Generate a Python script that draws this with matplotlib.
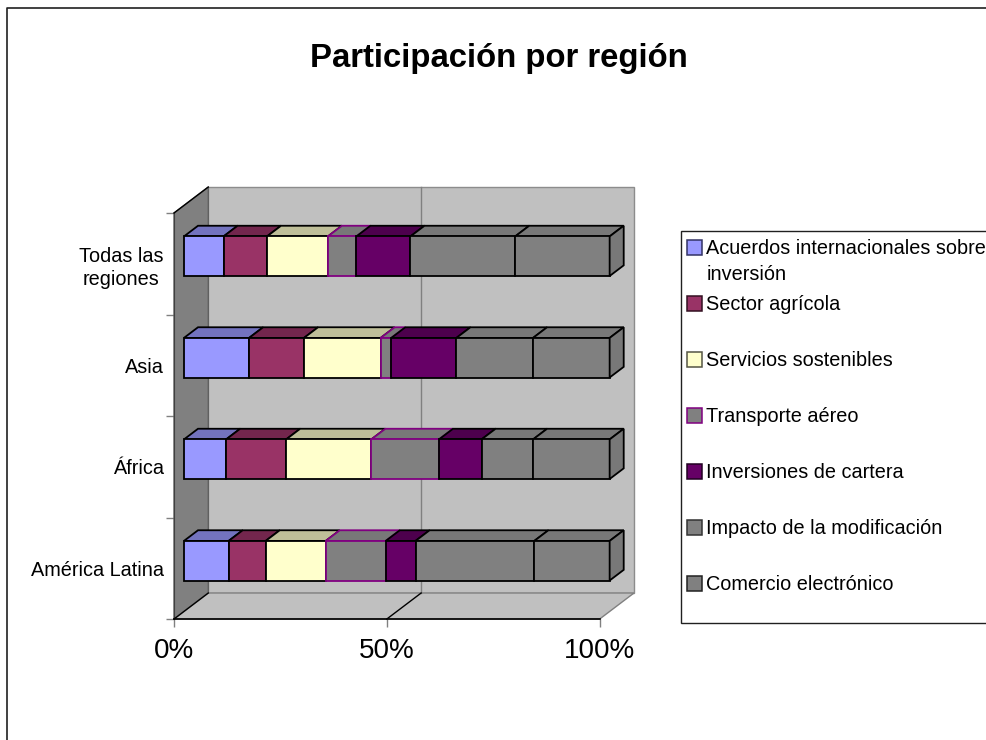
import matplotlib
matplotlib.use('Agg')
import matplotlib.pyplot as plt
from matplotlib.patches import Polygon, Rectangle
from matplotlib.lines import Line2D

plt.rcParams['font.family'] = ['Liberation Sans', 'DejaVu Sans']

# categories go bottom to top
regions = ['América Latina', 'África', 'Asia', 'Todas las\nregiones']
series = ['Acuerdos internacionales sobre\ninversión', 'Sector agrícola', 'Servicios sostenibles',
          'Transporte aéreo', 'Inversiones de cartera', 'Impacto de la modificación', 'Comercio electrónico']

acuerdos = [10.5, 9.9, 15.3, 9.3]
agricola = [8.7, 14.1, 12.9, 10.2]
servicios = [14.1, 20.0, 18.0, 14.3]
transporte = [14.1, 15.9, 2.5, 6.7]
cartera = [7.0, 10.0, 15.3, 12.7]
impacto = [27.9, 12.1, 18.0, 24.6]
comercio = [17.7, 18.0, 18.0, 22.2]
values = [acuerdos, agricola, servicios, transporte, cartera, impacto, comercio]

front = ['#9999FF', '#993366', '#FFFFCC', '#808080', '#660066', '#808080', '#808080']
top = ['#7373BF', '#73264D', '#BFBF99', '#787878', '#4D004D', '#787878', '#787878']
edges = ['black', 'black', 'black', '#800080', 'black', 'black', 'black']
swatch_edges = ['#333366', '#331122', '#555544', '#800080', '#220022', '#333333', '#222222']

W, H = 986, 740
fig = plt.figure(figsize=(W / 100, H / 100), dpi=100, facecolor='white')

# overlay in pixels for the frame, title and legend box
over = fig.add_axes([0, 0, 1, 1], zorder=0)
over.set_xlim(0, W)
over.set_ylim(H, 0)
over.axis('off')

ax = fig.add_axes([174 / W, 1 - 619 / H, 425.7 / W, 406 / H], zorder=1)
ax.patch.set_alpha(0)
ax.set_xlim(0, 100)
ax.set_ylim(0, 4)

DX = 34.3 / 4.257   # wall depth in percent
DY = 26 / 101.5     # wall depth in category units


def proj(x, y, d):
    return (x + d * DX, y + d * DY)


def poly(points, fc, ec, lw=1.0, z=2):
    ax.add_patch(Polygon([proj(*p) for p in points], closed=True, facecolor=fc, edgecolor=ec,
                         linewidth=lw, zorder=z, clip_on=False, joinstyle='miter'))


def line(p0, p1, color, lw=1.0, z=3):
    a, b = proj(*p0), proj(*p1)
    ax.plot([a[0], b[0]], [a[1], b[1]], color=color, lw=lw, zorder=z, clip_on=False)


# walls and floor
poly([(0, 0, 1), (100, 0, 1), (100, 4, 1), (0, 4, 1)], '#C0C0C0', '#8C8C8C')
poly([(0, 0, 0), (0, 4, 0), (0, 4, 1), (0, 0, 1)], '#808080', '#606060')
poly([(0, 0, 0), (100, 0, 0), (100, 0, 1), (0, 0, 1)], '#C0C0C0', '#808080')
line((50, 0, 1), (50, 4, 1), '#808080')
line((0, 0, 0), (0, 0, 1), 'black')
line((0, 4, 0), (0, 4, 1), 'black')
line((50, 0, 0), (50, 0, 1), 'black')
line((0, 0, 0), (100, 0, 0), 'black', lw=1.2)

# stacked boxes
d0, d1 = 0.29, 0.70
half = 0.195
z = 4
for i in range(len(regions) - 1, -1, -1):
    left = 0
    yc = i + 0.5
    for j in range(len(series)):
        w = values[j][i]
        right = left + w
        poly([(left, yc + half, d0), (right, yc + half, d0), (right, yc + half, d1), (left, yc + half, d1)],
             top[j], edges[j], lw=1.3, z=z)
        poly([(left, yc - half, d0), (right, yc - half, d0), (right, yc + half, d0), (left, yc + half, d0)],
             front[j], edges[j], lw=1.3, z=z)
        if j == len(series) - 1:
            poly([(right, yc - half, d0), (right, yc - half, d1), (right, yc + half, d1), (right, yc + half, d0)],
                 '#787878', edges[j], lw=1.3, z=z)
        left = right
        z += 1

# axes furniture
for s in ['top', 'right', 'bottom']:
    ax.spines[s].set_visible(False)
ax.spines['left'].set_color('#404040')
ax.set_xticks([0, 50, 100])
ax.set_xticklabels(['0%', '50%', '100%'], fontsize=20, color='black')
ax.tick_params(axis='x', length=5.8, width=1.0, color='#808080', pad=8)
ax.set_yticks([0, 1, 2, 3, 4])
ax.set_yticklabels([])
ax.tick_params(axis='y', length=5.8, width=1.0, color='#808080')
ax.set_yticks([0.5, 1.5, 2.5, 3.5], minor=True)
ax.set_yticklabels(regions, minor=True, fontsize=14.3, multialignment='center', linespacing=1.3)
ax.tick_params(axis='y', which='minor', length=0, pad=7.5)

# chart frame runs off the right and bottom of the picture
over.add_line(Line2D([6.5, 6.5, W], [H, 7.5, 7.5], color='#202020', lw=1.2))
over.text(499, 58.5, 'Participación por región', ha='center', va='center', fontsize=23.7, fontweight='bold')

# legend box
over.add_patch(Rectangle((680.5, 230.5), 320, 392, facecolor='white', edgecolor='#202020', lw=1.0))
legend_y = [247, 303, 359, 415, 471, 527, 583]
for j in range(len(series)):
    y = legend_y[j]
    over.add_patch(Rectangle((686.5, y - 7), 15, 14.5, facecolor=front[j], edgecolor=swatch_edges[j], lw=1.1))
    over.text(706.5, y - 8 if j == 0 else y + 1.5, series[j], ha='left', va='top' if j == 0 else 'center',
              fontsize=14.3, linespacing=1.5)

fig.savefig('out.png', dpi=100)
